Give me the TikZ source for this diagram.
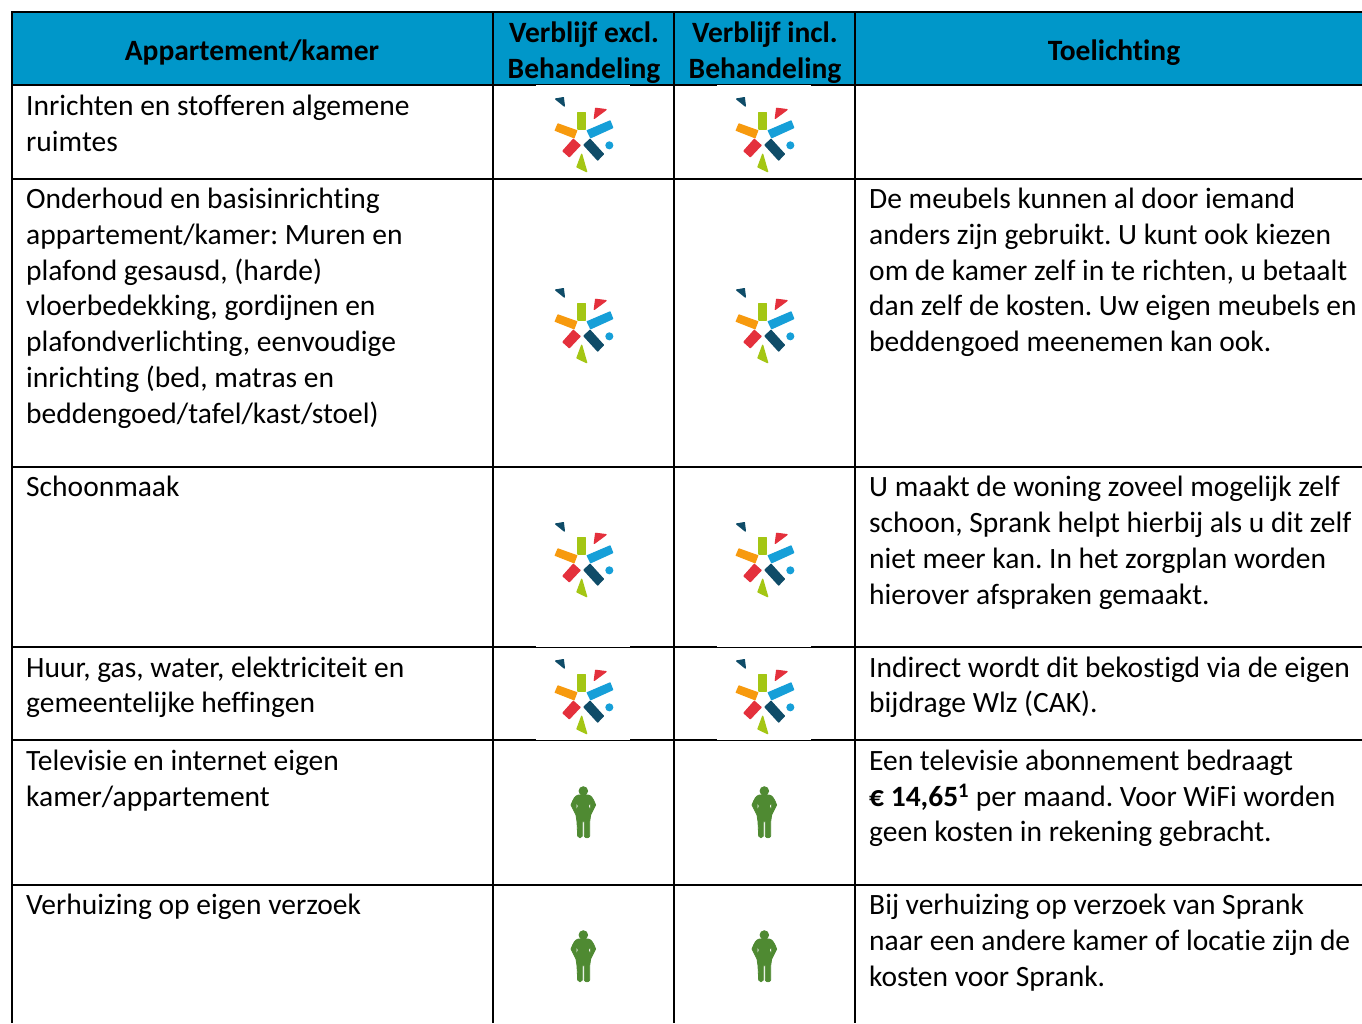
\documentclass[tikz,border=0pt]{standalone}
\usepackage{fontspec}
\setmainfont[Ligatures=NoCommon]{Carlito}
\definecolor{hdr}{HTML}{0097C9}
\definecolor{lgreen}{HTML}{A4C614}
\definecolor{lorange}{HTML}{F79A0E}
\definecolor{lblue}{HTML}{169FD8}
\definecolor{lred}{HTML}{E4303C}
\definecolor{ldark}{HTML}{0F4C68}
\definecolor{pgreen}{HTML}{4F8A32}
\newcommand{\sprlogo}[2]{%
\begin{scope}[shift={(#1,#2)},x=0.3333pt,y=-0.3333pt,line width=1.3pt,line join=round]
\filldraw[ldark] (77,42)--(100,38)--(103,63)--cycle;
\filldraw[lred] (197,70)--(228,74)--(193,100)--cycle;
\filldraw[lgreen] (144,82) rectangle (166,132);
\filldraw[lorange] (84,117)--(140,137)--(132,158)--(76,136)--cycle;
\filldraw[lblue] (172,137)--(240,108)--(248,128)--(182,158)--cycle;
\filldraw[lred] (130,163)--(150,181)--(118,215)--(99,198)--cycle;
\filldraw[ldark] (180,163)--(220,207)--(203,225)--(162,180)--cycle;
\filldraw[lgreen] (155,208)--(170,260)--(141,246)--cycle;
\filldraw[lblue] (238,181) circle (10);
\end{scope}}
\newcommand{\sprperson}[2]{%
\begin{scope}[shift={(#1,#2)},x=0.3333pt,y=-0.3333pt,line width=0.8pt,line join=round]
\filldraw[pgreen] (100,48) circle (13);
\filldraw[pgreen] (85,60) -- (115,60) .. controls (125,62) and (130,72) .. (137,90) -- (122,120) -- (119,140) -- (119,183) .. controls (117,190) and (105,190) .. (103,183) -- (103,140) -- (97,140) -- (97,183) .. controls (95,190) and (85,190) .. (83,183) -- (81,140) -- (78,120) -- (63,90) .. controls (70,72) and (75,62) .. (85,60) -- cycle;
\fill[white] (80,88) -- (83,93) -- (80,100) -- cycle;
\fill[white] (120,88) -- (117,93) -- (120,100) -- cycle;
\end{scope}}
\tikzset{
 body/.style={anchor=base west,font=\fontsize{29.5}{36}\selectfont\frenchspacing,inner sep=0pt,align=left,yshift=-1.3pt},
 head/.style={anchor=base,font=\fontsize{29.5}{36}\selectfont\bfseries,inner sep=0pt,yshift=-1.3pt},
 rule/.style={line width=2pt,black}
}
\begin{document}
\begin{tikzpicture}[x=1pt,y=-1pt]
\useasboundingbox (0,0) rectangle (1362,1023);
\fill[white] (0,0) rectangle (1362,1023);
\fill[hdr] (12,12) rectangle (1362,85);
% rules
\foreach \yy in {85,179,467,647,740,885} {\draw[rule] (11,\yy) -- (1362,\yy);}
\draw[rule] (11,12) -- (1362,12);
\foreach \xx in {12,493,674,855} {\draw[rule] (\xx,12) -- (\xx,1023);}
% image patches that clip the rules
\foreach \ox in {536,717} {
 \foreach \oy in {85.0,646.0,739.0} {\fill[white] (\ox,\oy+0.2) rectangle (\ox+94,\oy+1.2);}
}
% header
\node[head] (h1) at (252,59) {Appartement/kamer};
\node[head] (h2a) at (584,41) {Verblijf excl.};
\node[head] (h2b) at (584,77) {Behandeling};
\node[head] (h3a) at (765,41) {Verblijf incl.};
\node[head] (h3b) at (765,77) {Behandeling};
\node[head] (h4) at (1114,59) {Toelichting};
% left column
\foreach \yy/\txt in {114/{Inrichten en stofferen algemene},150/ruimtes,
207/{Onderhoud en basisinrichting},243/{appartement/kamer: Muren en},279/{plafond gesausd, (harde)},314/{vloerbedekking, gordijnen en},350/{plafondverlichting, eenvoudige},386/{inrichting (bed, matras en},422/{beddengoed/tafel/kast/stoel)},
495/Schoonmaak,
676/{Huur, gas, water, elektriciteit en},711/{gemeentelijke heffingen},
769/{Televisie en internet eigen},805/{kamer/appartement},
913/{Verhuizing op eigen verzoek}}
 {\node[body] at (26,\yy) {\txt};}
% right column
\foreach \yy/\txt in {207/{De meubels kunnen al door iemand},243/{anders zijn gebruikt. U kunt ook kiezen},279/{om de kamer zelf in te richten, u betaalt},314/{dan zelf de kosten. Uw eigen meubels en},350/{beddengoed meenemen kan ook.},
495/{U maakt de woning zoveel mogelijk zelf},531/{schoon, Sprank helpt hierbij als u dit zelf},567/{niet meer kan. In het zorgplan worden},603/{hierover afspraken gemaakt.},
676/{Indirect wordt dit bekostigd via de eigen},711/{bijdrage Wlz (CAK).},
769/{Een televisie abonnement bedraagt},805/{\textbf{€ 14,65\textsuperscript{1}} per maand. Voor WiFi worden},840/{geen kosten in rekening gebracht.},
913/{Bij verhuizing op verzoek van Sprank},949/{naar een andere kamer of locatie zijn de},985/{kosten voor Sprank.}}
 {\node[body] at (869,\yy) {\txt};}
% logos
\foreach \ox in {530,711} {
 \foreach \oy in {85,276,510,647} {\sprlogo{\ox}{\oy}}
}
\foreach \ox in {550,731} {
 \foreach \oy in {775,919} {\sprperson{\ox}{\oy}}
}
\end{tikzpicture}
\end{document}
